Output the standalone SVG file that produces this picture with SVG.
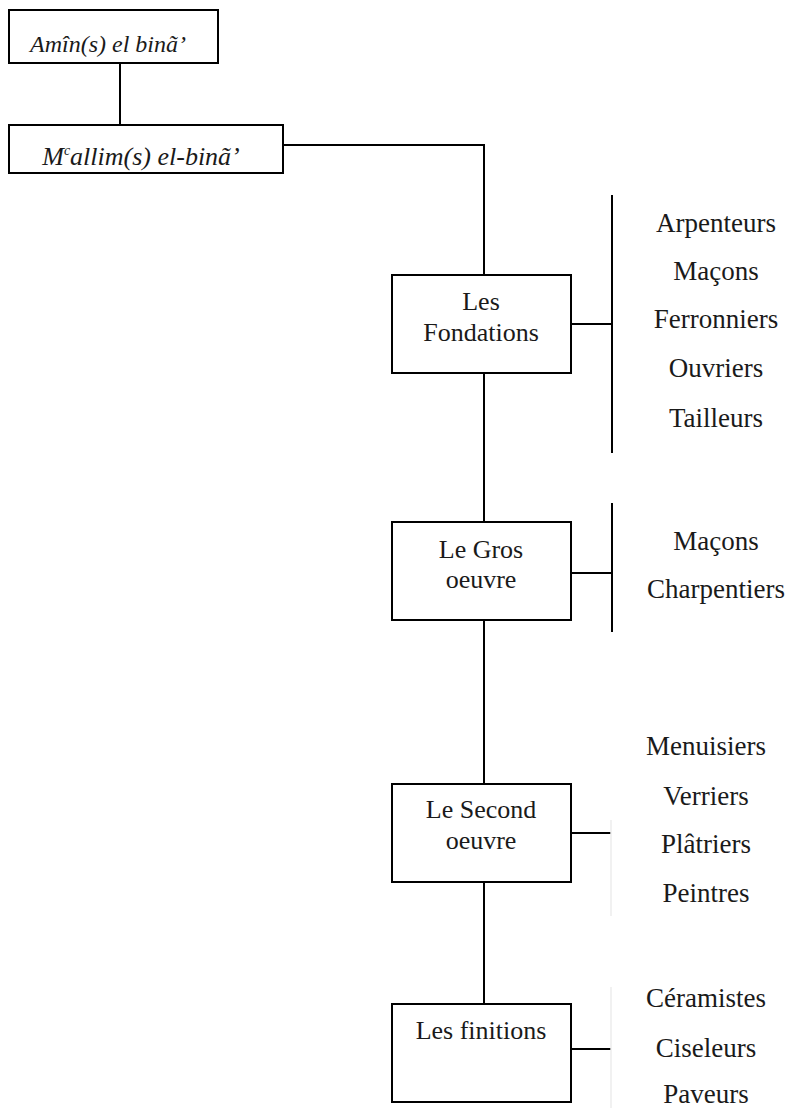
<svg xmlns="http://www.w3.org/2000/svg" width="791" height="1108" viewBox="0 0 791 1108">
<style>
.box{fill:#fff;stroke:#000;stroke-width:2}
.ln{stroke:#000;stroke-width:2;fill:none}
.faint{stroke:#ececec;stroke-width:1.5;fill:none}
text{font-family:"Liberation Serif","Times New Roman",serif;fill:#1a1a1a;text-anchor:middle}
.t{font-size:26px}
.it{font-size:24px;font-style:italic}
.it2{font-size:26px;font-style:italic}
.sup{font-size:14px}
.r{font-size:27px}
</style>
<rect width="791" height="1108" fill="#fff"/>
<g id="connectors">
<line class="ln" x1="120" y1="63" x2="120" y2="125"/>
<polyline class="ln" points="283,145 484,145 484,275"/>
<line class="ln" x1="484" y1="373" x2="484" y2="522"/>
<line class="ln" x1="484" y1="620" x2="484" y2="784"/>
<line class="ln" x1="484" y1="882" x2="484" y2="1004"/>
<line class="ln" x1="571" y1="324" x2="612" y2="324"/>
<line class="ln" x1="612" y1="195" x2="612" y2="453"/>
<line class="ln" x1="571" y1="573" x2="612" y2="573"/>
<line class="ln" x1="612" y1="503" x2="612" y2="632"/>
<line class="ln" x1="571" y1="833" x2="611" y2="833"/>
<line class="faint" x1="611" y1="820" x2="611" y2="916"/>
<line class="ln" x1="571" y1="1049" x2="611" y2="1049"/>
<line class="faint" x1="611" y1="987" x2="611" y2="1108"/>
</g>
<g id="amin">
<rect class="box" x="9" y="10" width="209" height="53"/>
<text class="it" x="108" y="52">Amîn(s) el binã’</text>
</g>
<g id="mallim">
<rect class="box" x="9" y="125" width="274" height="48"/>
<text class="it2" x="141" y="165">M<tspan class="sup" dy="-10">c</tspan><tspan dy="10">allim(s) el-binã’</tspan></text>
</g>
<g id="fondations">
<rect class="box" x="392" y="275" width="179" height="98"/>
<text class="t" x="481" y="310">Les</text>
<text class="t" x="481" y="341">Fondations</text>
</g>
<g id="fondations-trades">
<text class="r" x="716" y="232">Arpenteurs</text>
<text class="r" x="716" y="280">Maçons</text>
<text class="r" x="716" y="328">Ferronniers</text>
<text class="r" x="716" y="377">Ouvriers</text>
<text class="r" x="716" y="427">Tailleurs</text>
</g>
<g id="gros-oeuvre">
<rect class="box" x="392" y="522" width="179" height="98"/>
<text class="t" x="481" y="558">Le Gros</text>
<text class="t" x="481" y="588">oeuvre</text>
</g>
<g id="gros-trades">
<text class="r" x="716" y="550">Maçons</text>
<text class="r" x="716" y="598">Charpentiers</text>
</g>
<g id="second-oeuvre">
<rect class="box" x="392" y="784" width="179" height="98"/>
<text class="t" x="481" y="818">Le Second</text>
<text class="t" x="481" y="849">oeuvre</text>
</g>
<g id="second-trades">
<text class="r" x="706" y="755">Menuisiers</text>
<text class="r" x="706" y="805">Verriers</text>
<text class="r" x="706" y="853">Plâtriers</text>
<text class="r" x="706" y="902">Peintres</text>
</g>
<g id="finitions">
<rect class="box" x="392" y="1004" width="179" height="98"/>
<text class="t" x="481" y="1039">Les finitions</text>
</g>
<g id="finitions-trades">
<text class="r" x="706" y="1007">Céramistes</text>
<text class="r" x="706" y="1057">Ciseleurs</text>
<text class="r" x="706" y="1103">Paveurs</text>
</g>
</svg>
